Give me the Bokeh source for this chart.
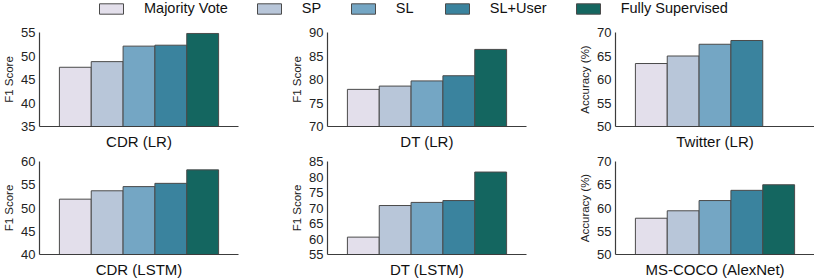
from bokeh.plotting import figure
from bokeh.layouts import column, row
from bokeh.models import Range1d, FixedTicker, Legend, LegendItem, ColumnDataSource
from bokeh.embed import file_html
from bokeh.resources import INLINE

methods = ["Majority Vote", "SP", "SL", "SL+User", "Fully Supervised"]
colors = ["#e3dfeb", "#b8c6d9", "#74a6c4", "#3a839e", "#146660"]

titles = ["CDR (LR)", "DT (LR)", "Twitter (LR)",
          "CDR (LSTM)", "DT (LSTM)", "MS-COCO (AlexNet)"]
ylabels = ["F1 Score", "F1 Score", "Accuracy (%)",
           "F1 Score", "F1 Score", "Accuracy (%)"]

cdr_lr = [47.6, 48.8, 52.1, 52.3, 54.8]
dt_lr = [77.9, 78.6, 79.7, 80.8, 86.4]
twitter_lr = [63.4, 65.0, 67.5, 68.3]
cdr_lstm = [51.9, 53.7, 54.6, 55.3, 58.2]
dt_lstm = [60.6, 70.8, 71.8, 72.4, 81.6]
coco_alexnet = [57.8, 59.4, 61.6, 63.8, 65.0]

cdr_lr_ticks = [35, 40, 45, 50, 55]
dt_lr_ticks = [70, 75, 80, 85, 90]
twitter_ticks = [50, 55, 60, 65, 70]
cdr_lstm_ticks = [40, 45, 50, 55, 60]
dt_lstm_ticks = [55, 60, 65, 70, 75, 80, 85]
coco_ticks = [50, 55, 60, 65, 70]

values = [cdr_lr, dt_lr, twitter_lr, cdr_lstm, dt_lstm, coco_alexnet]
ticks = [cdr_lr_ticks, dt_lr_ticks, twitter_ticks, cdr_lstm_ticks, dt_lstm_ticks, coco_ticks]

FONT = "Liberation Sans"
AXIS_COLOR = "#3c3c3c"
EDGE = "#4a4a4a"


def panel(i, last_col, top_row):
    vals = values[i]
    tk = ticks[i]
    if top_row:
        h, bt, bb = 136, 16, 26
    else:
        h, bt, bb = 128, 9, 25
    p = figure(width=238 if last_col else 288, height=h,
               x_range=Range1d(-1.125, 5.125), y_range=Range1d(tk[0], tk[-1]),
               output_backend="svg", toolbar_location=None,
               min_border_left=31, min_border_right=0 if last_col else 50,
               min_border_top=bt, min_border_bottom=bb,
               background_fill_color="white", border_fill_color="white")
    p.outline_line_color = None
    p.grid.visible = False
    src = ColumnDataSource(dict(x=list(range(len(vals))), top=vals,
                                color=colors[:len(vals)]))
    p.vbar(x="x", top="top", bottom=tk[0], width=1.0, source=src,
           fill_color="color", line_color=EDGE, line_width=1)

    ya = p.yaxis[0]
    ya.ticker = FixedTicker(ticks=tk)
    ya.axis_line_color = AXIS_COLOR
    ya.axis_line_width = 1.2
    ya.major_tick_line_color = None
    ya.minor_tick_line_color = None
    ya.major_tick_out = 0
    ya.major_tick_in = 0
    ya.major_label_standoff = 4
    ya.major_label_text_font = FONT
    ya.major_label_text_font_size = "13px"
    ya.major_label_text_color = "#222222"
    ya.axis_label = ylabels[i]
    ya.axis_label_text_font = FONT
    ya.axis_label_text_font_size = "11.5px"
    ya.axis_label_text_font_style = "normal"
    ya.axis_label_text_color = "#222222"
    ya.axis_label_standoff = 3

    xa = p.xaxis[0]
    xa.ticker = FixedTicker(ticks=[])
    xa.axis_line_color = AXIS_COLOR
    xa.axis_line_width = 1.2
    xa.major_tick_line_color = None
    xa.minor_tick_line_color = None
    xa.major_tick_out = 0
    xa.major_label_standoff = 0
    xa.major_label_text_font_size = "0px"
    xa.axis_label = titles[i]
    xa.axis_label_text_font = FONT
    xa.axis_label_text_font_size = "15px"
    xa.axis_label_text_font_style = "normal"
    xa.axis_label_text_color = "#111111"
    xa.axis_label_standoff = 6
    return p


# Legend strip: degenerate (zero-size) bars supply the legend swatches
leg = figure(width=814, height=16, x_axis_type=None, y_axis_type=None,
             x_range=Range1d(0, 1), y_range=Range1d(0, 1),
             output_backend="svg", toolbar_location=None, min_border=0,
             background_fill_color="white", border_fill_color="white")
leg.outline_line_color = None
leg.grid.visible = False
lsrc = ColumnDataSource(dict(x=[0] * len(methods), top=[0] * len(methods),
                             color=colors, label=methods))
lr = leg.vbar(x="x", top="top", bottom=0, width=0, source=lsrc,
              fill_color="color", line_color=EDGE, line_width=1)
items = [LegendItem(label=m, renderers=[lr], index=i) for i, m in enumerate(methods)]
legend = Legend(items=items, orientation="horizontal", location=(96, 0),
                glyph_width=30, glyph_height=13, label_standoff=18, spacing=26,
                padding=0, margin=0, border_line_color=None,
                background_fill_alpha=0, label_text_font=FONT,
                label_text_font_size="14.5px", label_text_color="#111111",
                label_height=13)
leg.add_layout(legend, "center")

panels = [panel(i, i % 3 == 2, i < 3) for i in range(6)]
layout = column(leg,
                row(panels[0], panels[1], panels[2]),
                row(panels[3], panels[4], panels[5]))

open("out.html", "w").write(file_html(layout, INLINE))
